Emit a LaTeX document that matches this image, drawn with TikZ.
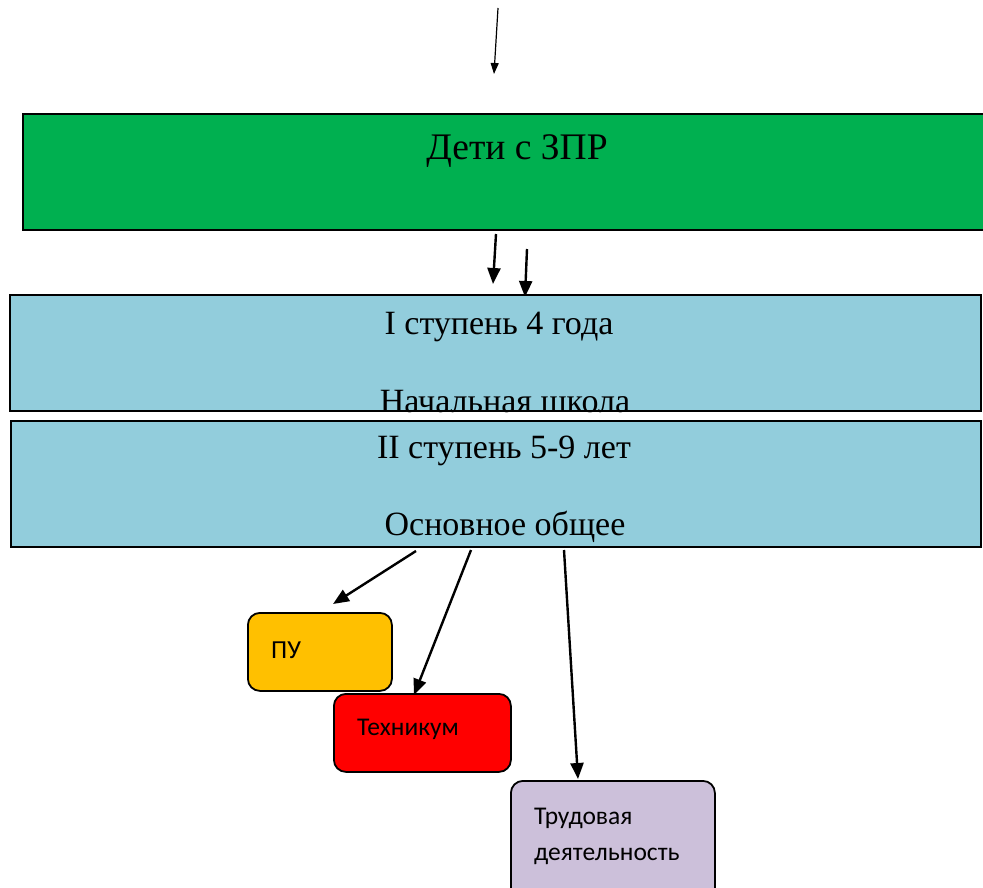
\documentclass[tikz,border=0pt]{standalone}
\usepackage{fontspec}
\setmainfont{Liberation Serif}
\newfontfamily\boxsans{Carlito}
\usetikzlibrary{arrows.meta,positioning}
\definecolor{zgreen}{HTML}{00B050}
\definecolor{zblue}{HTML}{92CDDC}
\definecolor{zorange}{HTML}{FFC000}
\definecolor{zred}{HTML}{FF0000}
\definecolor{zlilac}{HTML}{CCC0DA}
\tikzset{
  x=1pt, y=-1pt,
  bigbox/.style={draw=black, line width=2.2pt, inner sep=0pt, anchor=north west},
  smallbox/.style={draw=black, line width=1.8pt, rounded corners=12pt, inner sep=0pt, anchor=north west},
  serif/.style={font=\fontsize{34}{38}\selectfont, inner sep=0pt},
  sans/.style={font=\boxsans\fontsize{25.5}{30}\selectfont, inner sep=0pt, anchor=west},
  arr/.style={-{Triangle[length=16pt,width=13pt]}, line width=2.4pt},
  thinarr/.style={-{Triangle[length=11pt,width=8pt]}, line width=1.2pt},
}
\begin{document}
\begin{tikzpicture}
\useasboundingbox (0,0) rectangle (983,888);
\clip (0,0) rectangle (983,888);
% top arrow
\coordinate (t0) at (498,8);
\coordinate (t1) at (494,74);
\draw[thinarr] (t0) -- (t1);
% green box
\node[bigbox, fill=zgreen, minimum width=965pt, minimum height=116pt] (green) at (22,113) {};
\node[serif, font=\fontsize{37.5}{42}\selectfont] (gtext) at (517,151) {Дети с ЗПР};
% arrows between
\coordinate (a0) at (496,234);
\coordinate (a1) at (493,284);
\coordinate (b0) at (527,249);
\coordinate (b1) at (525,297);
\draw[arr] (a0) -- (a1);
\draw[arr] (b0) -- (b1);
% blue boxes
\node[bigbox, fill=zblue, minimum width=971pt, minimum height=116pt] (blue1) at (9,294) {};
\node[serif] (b1t1) at (499,327) {I ступень 4 года};
\node[serif] (b1t2) at (505,402) {Начальная школа};
\node[bigbox, fill=zblue, minimum width=970pt, minimum height=126pt] (blue2) at (10,420) {};
\node[serif] (b2t1) at (504,451) {II ступень 5-9 лет};
\node[serif] (b2t2) at (505,527) {Основное общее};
% small boxes
\node[smallbox, fill=zorange, minimum width=144pt, minimum height=78pt] (pu) at (247,612) {};
\node[sans, font=\boxsans\fontsize{26}{30}\selectfont] (put) at (271,650) {ПУ};
\node[smallbox, fill=zred, minimum width=177pt, minimum height=78pt] (tech) at (333,693) {};
\node[sans] (techt) at (357,729) {Техникум};
\node[smallbox, fill=zlilac, minimum width=204pt, minimum height=130pt] (trud) at (510,780) {};
\node[sans] (trudt1) at (534,818) {Трудовая};
\node[sans] (trudt2) at (534,856) {деятельность};
% lower arrows
\coordinate (c0) at (416,551);
\coordinate (c1) at (333,604);
\coordinate (d0) at (471,550);
\coordinate (d1) at (414,695);
\coordinate (e0) at (564,550);
\coordinate (e1) at (578,779);
\draw[arr] (c0) -- (c1);
\draw[arr] (d0) -- (d1);
\draw[arr] (e0) -- (e1);
\end{tikzpicture}
\end{document}
